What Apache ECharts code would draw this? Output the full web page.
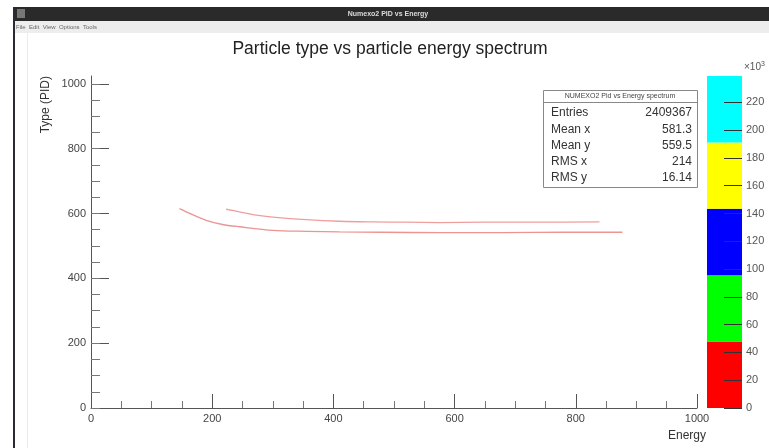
<!DOCTYPE html>
<html>
<head>
<meta charset="utf-8">
<script src="https://cdn.jsdelivr.net/npm/echarts@6/dist/echarts.min.js"></script>
<style>
  html, body { margin: 0; padding: 0; background: #fff; }
  #chart { width: 769px; height: 448px; }
</style>
</head>
<body>
<div id="chart"></div>
<script>
// Axis tick positions
const energyTicks = [0, 200, 400, 600, 800, 1000];
const pidMajorTicks = [0, 200, 400, 600, 800, 1000];
const pidMinorTicks = [0, 50, 100, 150, 200, 250, 300, 350, 400, 450, 500, 550,
                       600, 650, 700, 750, 800, 850, 900, 950, 1000];
const paletteTicks = [0, 20, 40, 60, 80, 100, 120, 140, 160, 180, 200, 220];

// Colour palette levels (counts, x10^3) and their colours
const paletteEdges = [0, 47.8, 95.6, 143.4, 191.2, 239];
const paletteColors = ['#ff0000', '#00ff00', '#0000ff', '#ffff00', '#00ffff'];

// Populated bins: lower band
const lowerBandEnergy = [146, 163, 190, 217, 245, 300, 356, 410, 480, 575, 680, 780, 877];
const lowerBandPID    = [615, 600, 579, 566, 559, 548, 545, 543, 542, 541, 541, 542, 542];
// Populated bins: upper band
const upperBandEnergy = [223, 245, 273, 300, 355, 410, 465, 520, 575, 650, 740, 839];
const upperBandPID    = [613, 605, 595, 589, 581, 576, 574, 573, 572, 573, 573, 574];

// Statistics box
const statsTitle = 'NUMEXO2 Pid vs Energy spectrum';
const statsLabels = ['Entries', 'Mean x', 'Mean y', 'RMS x', 'RMS y'];
const statsValues = ['2409367', '581.3', '559.5', '214', '16.14'];

const FONT = 'Liberation Sans';
const TXT = '#333';

const zip = (xs, ys) => xs.map((x, i) => [x, ys[i]]);
const plain = v => String(v);

const chart = echarts.init(document.getElementById('chart'), null, { renderer: 'canvas' });

const paletteSeries = paletteColors.map((c, i) => ({
  type: 'bar',
  xAxisIndex: 1,
  yAxisIndex: 2,
  stack: 'palette',
  barWidth: '100%',
  barCategoryGap: '0%',
  itemStyle: { color: c },
  silent: true,
  z: 1,
  data: [paletteEdges[i + 1] - paletteEdges[i]]
}));

// Stats box rows
const statsRowY = [113, 130, 146, 162, 178];
const statsGraphics = [];
statsGraphics.push({
  type: 'rect', shape: { x: 543.5, y: 90.5, width: 154, height: 97 },
  style: { fill: '#fff', stroke: '#888', lineWidth: 1 }, z: 10
});
statsGraphics.push({
  type: 'line', shape: { x1: 543.5, y1: 102.5, x2: 697.5, y2: 102.5 },
  style: { stroke: '#888', lineWidth: 1 }, z: 11
});
statsGraphics.push({
  type: 'text', x: 620, y: 96.5, z: 11,
  style: { text: statsTitle, font: '7px ' + FONT, fill: '#444', align: 'center', verticalAlign: 'middle' }
});
statsLabels.forEach((lab, i) => {
  statsGraphics.push({
    type: 'text', x: 551, y: statsRowY[i], z: 11,
    style: { text: lab, font: '12px ' + FONT, fill: TXT, verticalAlign: 'middle' }
  });
  statsGraphics.push({
    type: 'text', x: 692, y: statsRowY[i], z: 11,
    style: { text: statsValues[i], font: '12px ' + FONT, fill: TXT, align: 'right', verticalAlign: 'middle' }
  });
});

const option = {
  backgroundColor: '#ffffff',
  animation: false,
  textStyle: { fontFamily: FONT },
  grid: [
    { left: 91, top: 76, width: 606, height: 332, containLabel: false },
    { left: 707, top: 76, width: 35, height: 332, containLabel: false }
  ],
  xAxis: [
    {
      type: 'value', gridIndex: 0, min: 0, max: 1000, interval: 200,
      axisLine: { show: true, lineStyle: { color: '#555', width: 1 } },
      axisTick: { show: true, inside: true, length: 14, lineStyle: { color: '#555' } },
      minorTick: { show: true, splitNumber: 4, length: 7, lineStyle: { color: '#777' } },
      axisLabel: { color: '#444', fontSize: 11, margin: 5, fontFamily: FONT,
                   customValues: energyTicks, formatter: plain },
      splitLine: { show: false }
    },
    {
      type: 'category', gridIndex: 1, data: ['z'], boundaryGap: true,
      axisLine: { show: false }, axisTick: { show: false }, axisLabel: { show: false },
      splitLine: { show: false }
    }
  ],
  yAxis: [
    {
      type: 'value', gridIndex: 0, min: 0, max: 1024, position: 'left',
      axisLine: { show: true, lineStyle: { color: '#555', width: 1 } },
      axisTick: { show: true, inside: true, length: 18, customValues: pidMajorTicks,
                  lineStyle: { color: '#555' } },
      axisLabel: { color: '#444', fontSize: 11, margin: 5, fontFamily: FONT,
                   customValues: pidMajorTicks, formatter: plain },
      splitLine: { show: false }
    },
    {
      type: 'value', gridIndex: 0, min: 0, max: 1024, position: 'left', offset: 0,
      axisLine: { show: false },
      axisTick: { show: true, inside: true, length: 9, customValues: pidMinorTicks,
                  lineStyle: { color: '#777' } },
      axisLabel: { show: false },
      splitLine: { show: false }
    },
    {
      type: 'value', gridIndex: 1, min: 0, max: 239, position: 'right', z: 10,
      axisLine: { show: false },
      axisTick: { show: true, inside: true, length: 18, customValues: paletteTicks,
                  lineStyle: { color: '#333', width: 1 } },
      axisLabel: { color: '#555', fontSize: 11, margin: 4, fontFamily: FONT,
                   customValues: paletteTicks, formatter: plain },
      splitLine: { show: false }
    }
  ],
  series: [
    {
      name: 'lower band', type: 'line', xAxisIndex: 0, yAxisIndex: 0,
      data: zip(lowerBandEnergy, lowerBandPID), smooth: 0.3, showSymbol: false,
      lineStyle: { color: 'rgba(220,40,40,0.5)', width: 1.3 }, silent: true, z: 3
    },
    {
      name: 'upper band', type: 'line', xAxisIndex: 0, yAxisIndex: 0,
      data: zip(upperBandEnergy, upperBandPID), smooth: 0.3, showSymbol: false,
      lineStyle: { color: 'rgba(220,40,40,0.45)', width: 1.3 }, silent: true, z: 3
    }
  ].concat(paletteSeries),
  graphic: [
    // window frame: title bar, menu bar, left border, canvas edge
    { type: 'rect', shape: { x: 13, y: 7, width: 756, height: 14 },
      style: { fill: '#2a2a2a' }, z: 0 },
    { type: 'rect', shape: { x: 17, y: 9, width: 8, height: 9 },
      style: { fill: '#777' }, z: 1 },
    { type: 'text', x: 388, y: 14, z: 1,
      style: { text: 'Numexo2 PID vs Energy', font: 'bold 7px ' + FONT, fill: '#ddd',
               align: 'center', verticalAlign: 'middle' } },
    { type: 'rect', shape: { x: 13, y: 21, width: 756, height: 12 },
      style: { fill: '#ededed' }, z: 0 },
    { type: 'text', x: 16, y: 27, z: 1,
      style: { text: 'File  Edit  View  Options  Tools', font: '6px ' + FONT, fill: '#666',
               verticalAlign: 'middle' } },
    { type: 'rect', shape: { x: 13, y: 7, width: 2, height: 441 },
      style: { fill: '#2a2a35' }, z: 1 },
    { type: 'line', shape: { x1: 27.5, y1: 33, x2: 27.5, y2: 448 },
      style: { stroke: '#ececec', lineWidth: 1 }, z: 0 },
    // plot title
    { type: 'text', x: 390, y: 49, z: 5,
      style: { text: 'Particle type vs particle energy spectrum', font: '17.5px ' + FONT,
               fill: '#222', align: 'center', verticalAlign: 'middle' } },
    // axis titles
    { type: 'text', x: 46, y: 76, rotation: Math.PI / 2, z: 5,
      style: { text: 'Type (PID)', font: '12px ' + FONT, fill: TXT,
               align: 'right', verticalAlign: 'middle' } },
    { type: 'text', x: 706, y: 436, z: 5,
      style: { text: 'Energy', font: '12px ' + FONT, fill: TXT,
               align: 'right', verticalAlign: 'middle' } },
    // palette multiplier
    { type: 'text', x: 744, y: 67, z: 5,
      style: { text: '{a|×10}{b|3}', font: '10px ' + FONT, fill: '#555', verticalAlign: 'middle',
               rich: { a: { fontSize: 10, fill: '#555', fontFamily: FONT },
                       b: { fontSize: 7, fill: '#555', fontFamily: FONT, verticalAlign: 'top', padding: [0, 0, 6, 0] } } } }
  ].concat(statsGraphics)
};

chart.setOption(option);
</script>
</body>
</html>
